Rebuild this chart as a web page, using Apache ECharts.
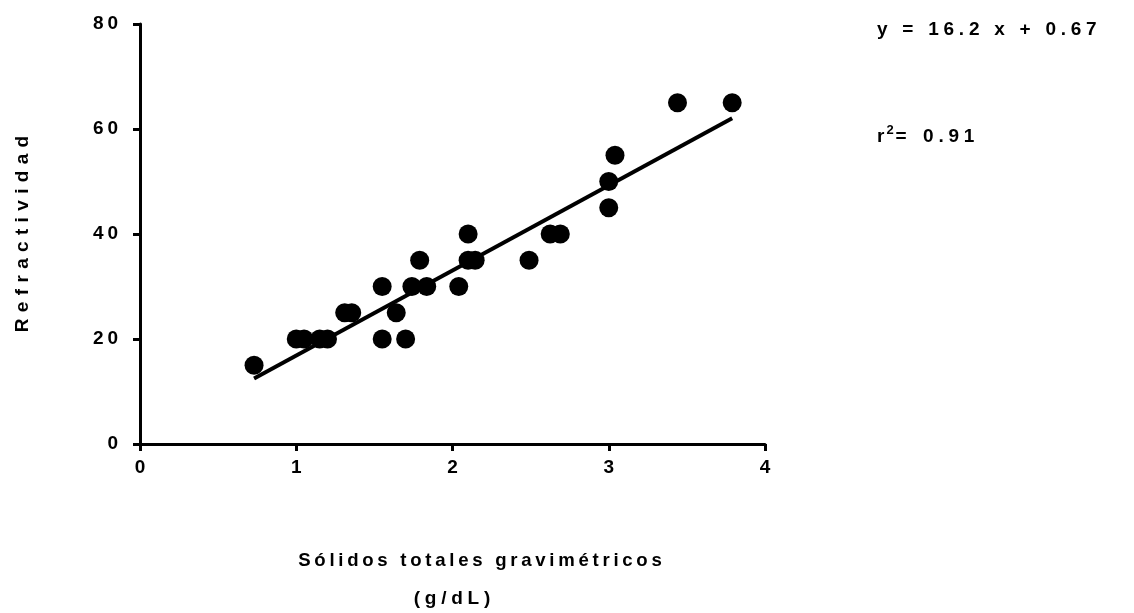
<!DOCTYPE html>
<html>
<head>
<meta charset="utf-8">
<script src="https://cdn.jsdelivr.net/npm/echarts@6/dist/echarts.min.js"></script>
<style>
  html, body { margin: 0; padding: 0; background: #fff; overflow: hidden; }
  #chart { width: 1134px; height: 613px; }
</style>
</head>
<body>
<div id="chart"></div>
<script>
// Measured samples: gravimetric total solids (g/dL) vs refractivity
const solids = [0.73, 1.00, 1.05, 1.15, 1.20, 1.31, 1.355, 1.55, 1.55, 1.64, 1.70, 1.74, 1.79, 1.835,
                2.04, 2.10, 2.10, 2.145, 2.49, 2.625, 2.69, 3.00, 3.00, 3.04, 3.44, 3.79];
const refractivity = [15, 20, 20, 20, 20, 25, 25, 30, 20, 25, 20, 30, 35, 30,
                      30, 40, 35, 35, 35, 40, 40, 50, 45, 55, 65, 65];

// Linear fit as reported: y = 16.2 x + 0.67, r^2 = 0.91
const slope = 16.2;
const intercept = 0.67;
const rSquared = 0.91;
const fitRange = [0.73, 3.79];

const xTicks = [0, 1, 2, 3, 4];
const yTicks = [0, 20, 40, 60, 80];

const xTitle = ['Sólidos totales gravimétricos', '(g/dL)'];
const yTitle = 'Refractividad';

const FONT = '"Liberation Sans", Arial, sans-serif';
// widen letter spacing by joining characters with a narrow space
const THIN = '\u2009', FOUR_EM = '\u2005', THREE_EM = '\u2004';
const track = (s, gap) => s.split('').join(gap || THIN);

const points = solids.map((x, i) => [x, refractivity[i]]);
const fitLine = fitRange.map(x => [x, slope * x + intercept]);

const chart = echarts.init(document.getElementById('chart'), null, { renderer: 'canvas' });

const axisText = { color: '#000', fontFamily: FONT, fontWeight: 'bold', fontSize: 19 };

chart.setOption({
  backgroundColor: '#fff',
  animation: false,
  grid: { left: 140, width: 625, top: 24, height: 420, containLabel: false },
  xAxis: {
    type: 'value',
    min: xTicks[0], max: xTicks[xTicks.length - 1], interval: 1,
    splitLine: { show: false },
    axisLine: { onZero: false, lineStyle: { color: '#000', width: 3 } },
    axisTick: { length: 7, lineStyle: { color: '#000', width: 3 } },
    axisLabel: Object.assign({ margin: 14, formatter: v => track(String(v)) }, axisText)
  },
  yAxis: {
    type: 'value',
    min: yTicks[0], max: yTicks[yTicks.length - 1], interval: 20,
    splitLine: { show: false },
    axisLine: { onZero: false, lineStyle: { color: '#000', width: 3 } },
    axisTick: { length: 7, lineStyle: { color: '#000', width: 3 } },
    axisLabel: Object.assign({ margin: 22, formatter: v => track(String(v)) }, axisText),
    name: track(yTitle, THREE_EM),
    nameLocation: 'middle',
    nameGap: 108,
    nameTextStyle: axisText
  },
  graphic: [
    {
      type: 'text', x: 480, y: 561,
      style: {
        text: track(xTitle[0]), align: 'center', verticalAlign: 'middle',
        fill: '#000', font: 'bold 18.6px ' + FONT
      }
    },
    {
      type: 'text', x: 452, y: 599,
      style: {
        text: track(xTitle[1], FOUR_EM), align: 'center', verticalAlign: 'middle',
        fill: '#000', font: 'bold 19px ' + FONT
      }
    },
    {
      type: 'text', left: 877, top: 20,
      style: {
        text: track('y = ' + slope + ' x + ' + intercept, FOUR_EM),
        fill: '#000', font: 'bold 19px ' + FONT
      }
    },
    {
      type: 'text', left: 877, top: 124,
      style: {
        text: '{b|r}{s|2}{b|' + track('=', FOUR_EM) + FOUR_EM + ' ' + THREE_EM + track(String(rSquared), FOUR_EM) + '}',
        rich: {
          b: { fill: '#000', fontFamily: FONT, fontWeight: 'bold', fontSize: 19 },
          s: { fill: '#000', fontFamily: FONT, fontWeight: 'bold', fontSize: 13, padding: [0, 2, 13, 2] }
        }
      }
    }
  ],
  series: [
    {
      type: 'line',
      data: fitLine,
      showSymbol: false,
      symbol: 'none',
      lineStyle: { color: '#000', width: 4 },
      z: 2
    },
    {
      type: 'scatter',
      data: points,
      symbol: 'circle',
      symbolSize: 19,
      itemStyle: { color: '#000', opacity: 1 },
      z: 3
    }
  ]
});
</script>
</body>
</html>
